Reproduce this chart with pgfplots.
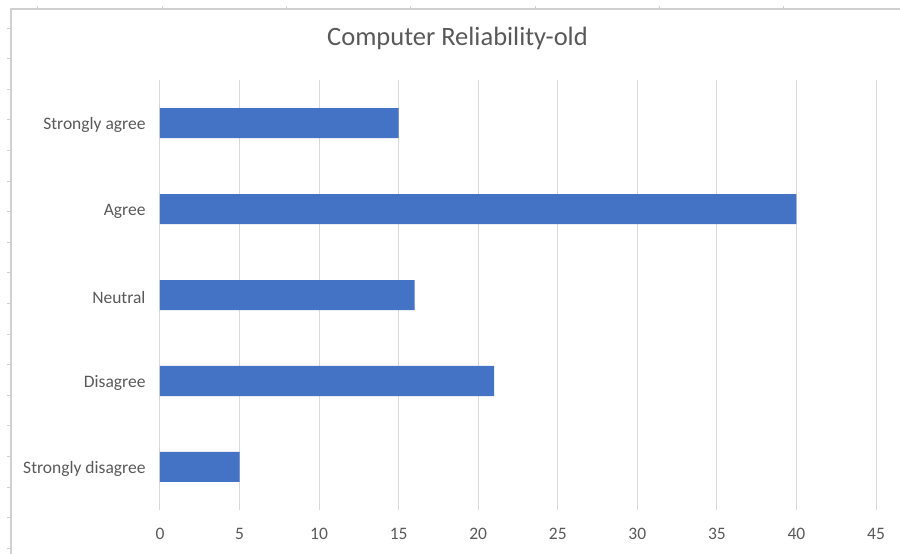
\documentclass[border=0pt]{standalone}
\usepackage{pgfplots}
\pgfplotsset{compat=1.18}
\usepackage{fontspec}
\setmainfont{Carlito}
\definecolor{barblue}{HTML}{4472C4}
\definecolor{txtgray}{HTML}{595959}
\definecolor{gridgray}{HTML}{D9D9D9}
\definecolor{framegray}{HTML}{D0D0D0}
\begin{document}
\begin{tikzpicture}[x=1pt,y=1pt]
% picture bounds: image px -> (px-160, 510-py)
\path[use as bounding box] (-160,-44) rectangle (740,510);
% spreadsheet frame
\draw[framegray,line width=1.2pt] (-149,-44) -- (-149,501) -- (740,501);
\foreach \tx in {37,162,286,410,535,659,783} {\draw[framegray,line width=0.8pt] (\tx-160,501) -- (\tx-160,504);}
\foreach \ty in {28,58,89,119,150,181,211,242,272,303,334,364,395,425,456,487,517,548} {\draw[framegray,line width=0.8pt] (-149,510-\ty) -- (-153,510-\ty);}
\begin{axis}[
  at={(0,0)}, anchor=south west,
  scale only axis, width=716pt, height=430pt,
  xbar, bar width=30pt,
  xmin=0, xmax=45, ymin=-0.5, ymax=4.5,
  xtick={0,5,...,45},
  ytick={0,1,2,3,4},
  yticklabels={Strongly disagree,Disagree,Neutral,Agree,Strongly agree},
  axis line style={draw=none},
  major tick length=0pt,
  xmajorgrids, grid style={gridgray,line width=1pt},
  tick label style={txtgray,font=\fontsize{17.5}{20}\selectfont},
  /pgf/number format/assume math mode=true,
  xticklabel style={yshift=-15pt},
  yticklabel style={xshift=-11pt,yshift=-2pt},
  title={Computer Reliability-old},
  title style={txtgray,font=\fontsize{26.5}{30}\selectfont,at={(0.4155,1)},anchor=base,yshift=29pt},
  clip=false,
]
\addplot[fill=barblue,draw=none] coordinates {(5,0) (21,1) (16,2) (40,3) (15,4)};
\end{axis}
\end{tikzpicture}
\end{document}
